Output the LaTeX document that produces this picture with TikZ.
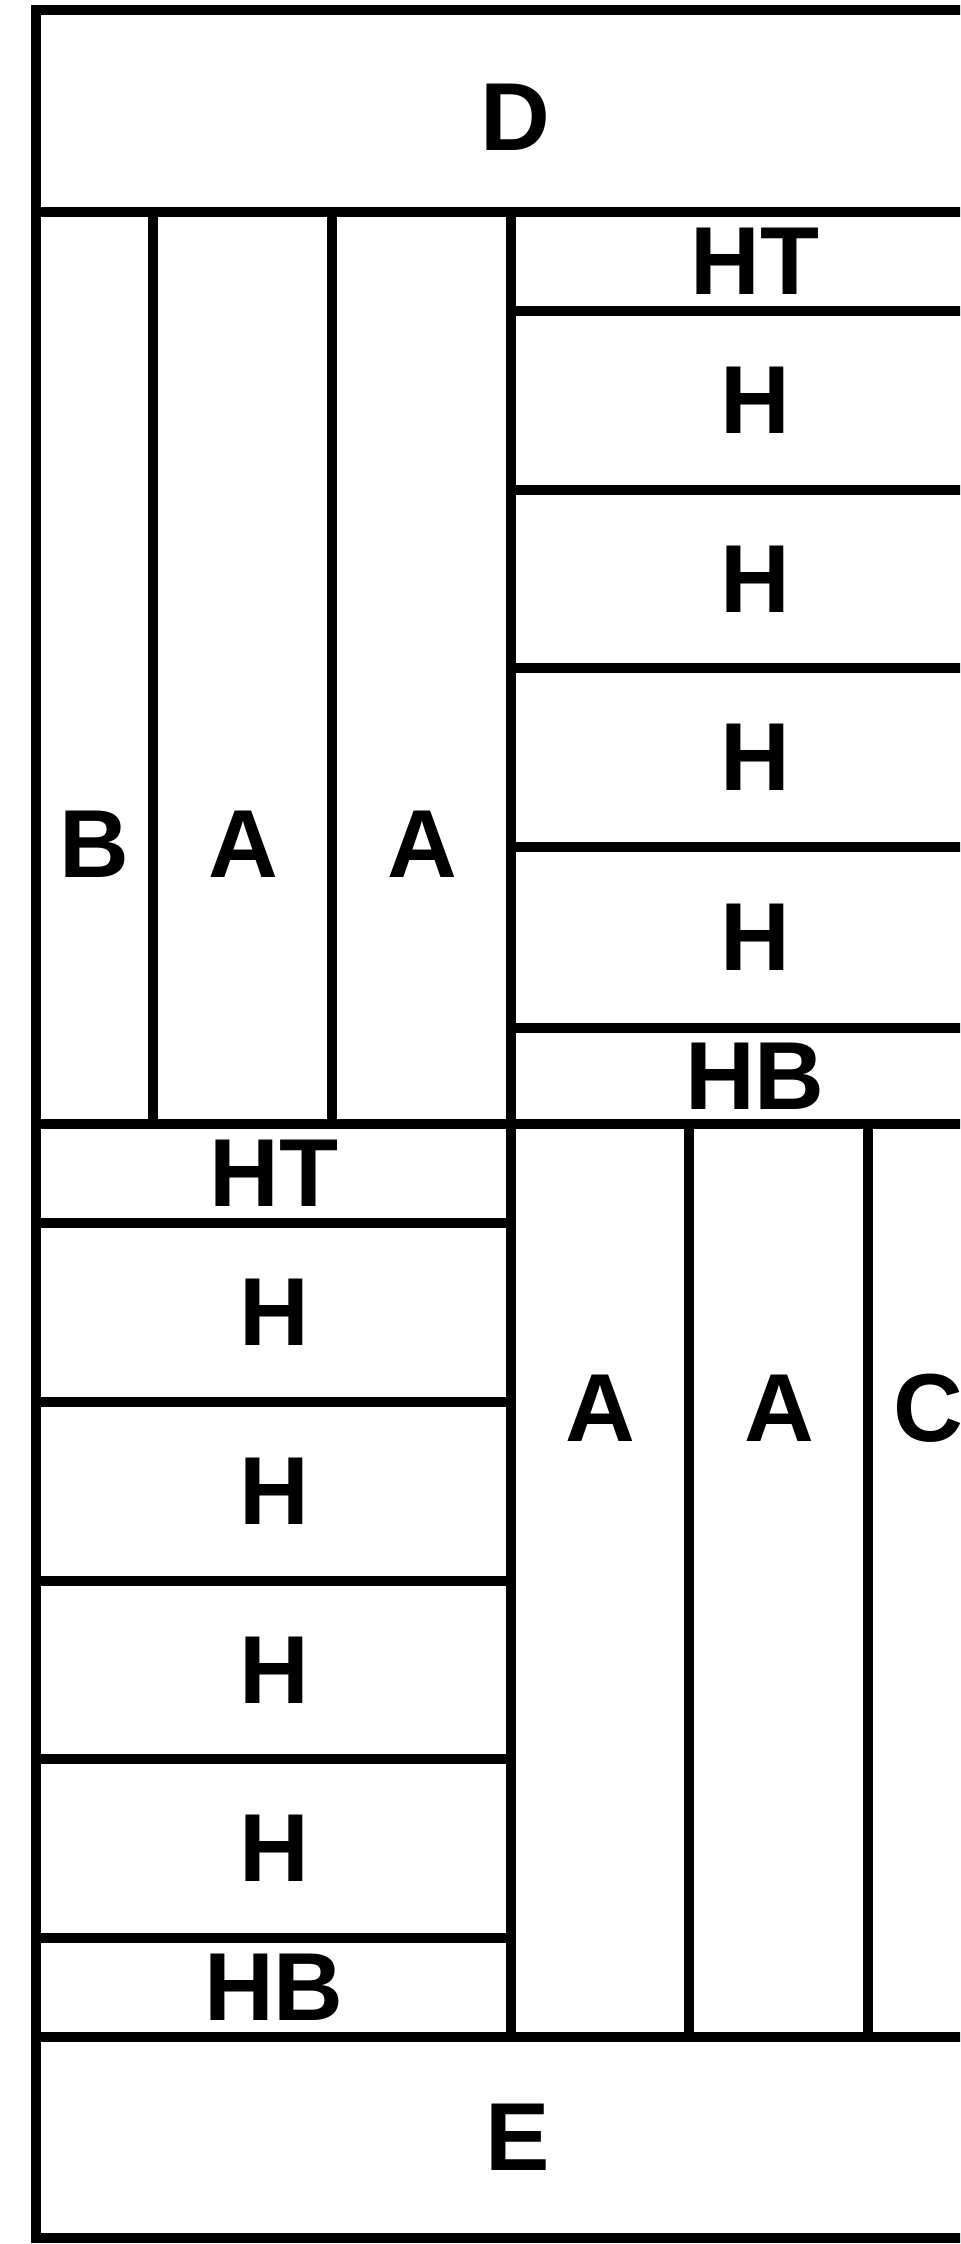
\documentclass[tikz,border=0pt]{standalone}
\usepackage{fontspec}
\setmainfont{Liberation Sans}

\tikzset{
  wall/.style={line width=0.2cm, draw=black},
  lbl/.style={font=\fontsize{55}{60}\selectfont\bfseries, inner sep=0pt}
}

\begin{document}
\begin{tikzpicture}[x=0.02cm, y=-0.02cm]
  \useasboundingbox (0,0) rectangle (960,2244);
  \clip (0,0) rectangle (960,2244);

  % Outer frame
  \draw[wall] (36,10) rectangle (995,2238);

  % D and E bands
  \draw[wall] (36,212) -- (995,212);
  \draw[wall] (36,2037) -- (995,2037);
  \node[lbl] (d) at (515,117) {D};
  \node[lbl] (e) at (518,2137) {E};

  % Upper block
  \draw[wall] (36,1124) -- (995,1124);
  \draw[wall] (153,212) -- (153,1124);
  \draw[wall] (332,212) -- (332,1124);
  \draw[wall] (511,212) -- (511,1124);
  \node[lbl] (b) at (94,844) {B};
  \node[lbl] (a1) at (243,844) {A};
  \node[lbl] (a2) at (422,844) {A};
  \foreach \y in {311,490,668,847,1028}
    \draw[wall] (511,\y) -- (995,\y);
  \node[lbl] (htu) at (755,261) {HT};
  \foreach \y [count=\i] in {400,579,757,937}
    \node[lbl] (hu\i) at (755,\y) {H};
  \node[lbl] (hbu) at (755,1076) {HB};

  % Lower block
  \draw[wall] (511,1124) -- (511,2037);
  \draw[wall] (689,1124) -- (689,2037);
  \draw[wall] (868,1124) -- (868,2037);
  \foreach \y in {1223,1402,1581,1759,1938}
    \draw[wall] (36,\y) -- (511,\y);
  \node[lbl] (htl) at (274,1173) {HT};
  \foreach \y [count=\i] in {1312,1491,1670,1848}
    \node[lbl] (hl\i) at (274,\y) {H};
  \node[lbl] (hbl) at (274,1987) {HB};
  \node[lbl] (a3) at (600,1408) {A};
  \node[lbl] (a4) at (779,1408) {A};
  \node[lbl] (c) at (928,1408) {C};
\end{tikzpicture}
\end{document}
